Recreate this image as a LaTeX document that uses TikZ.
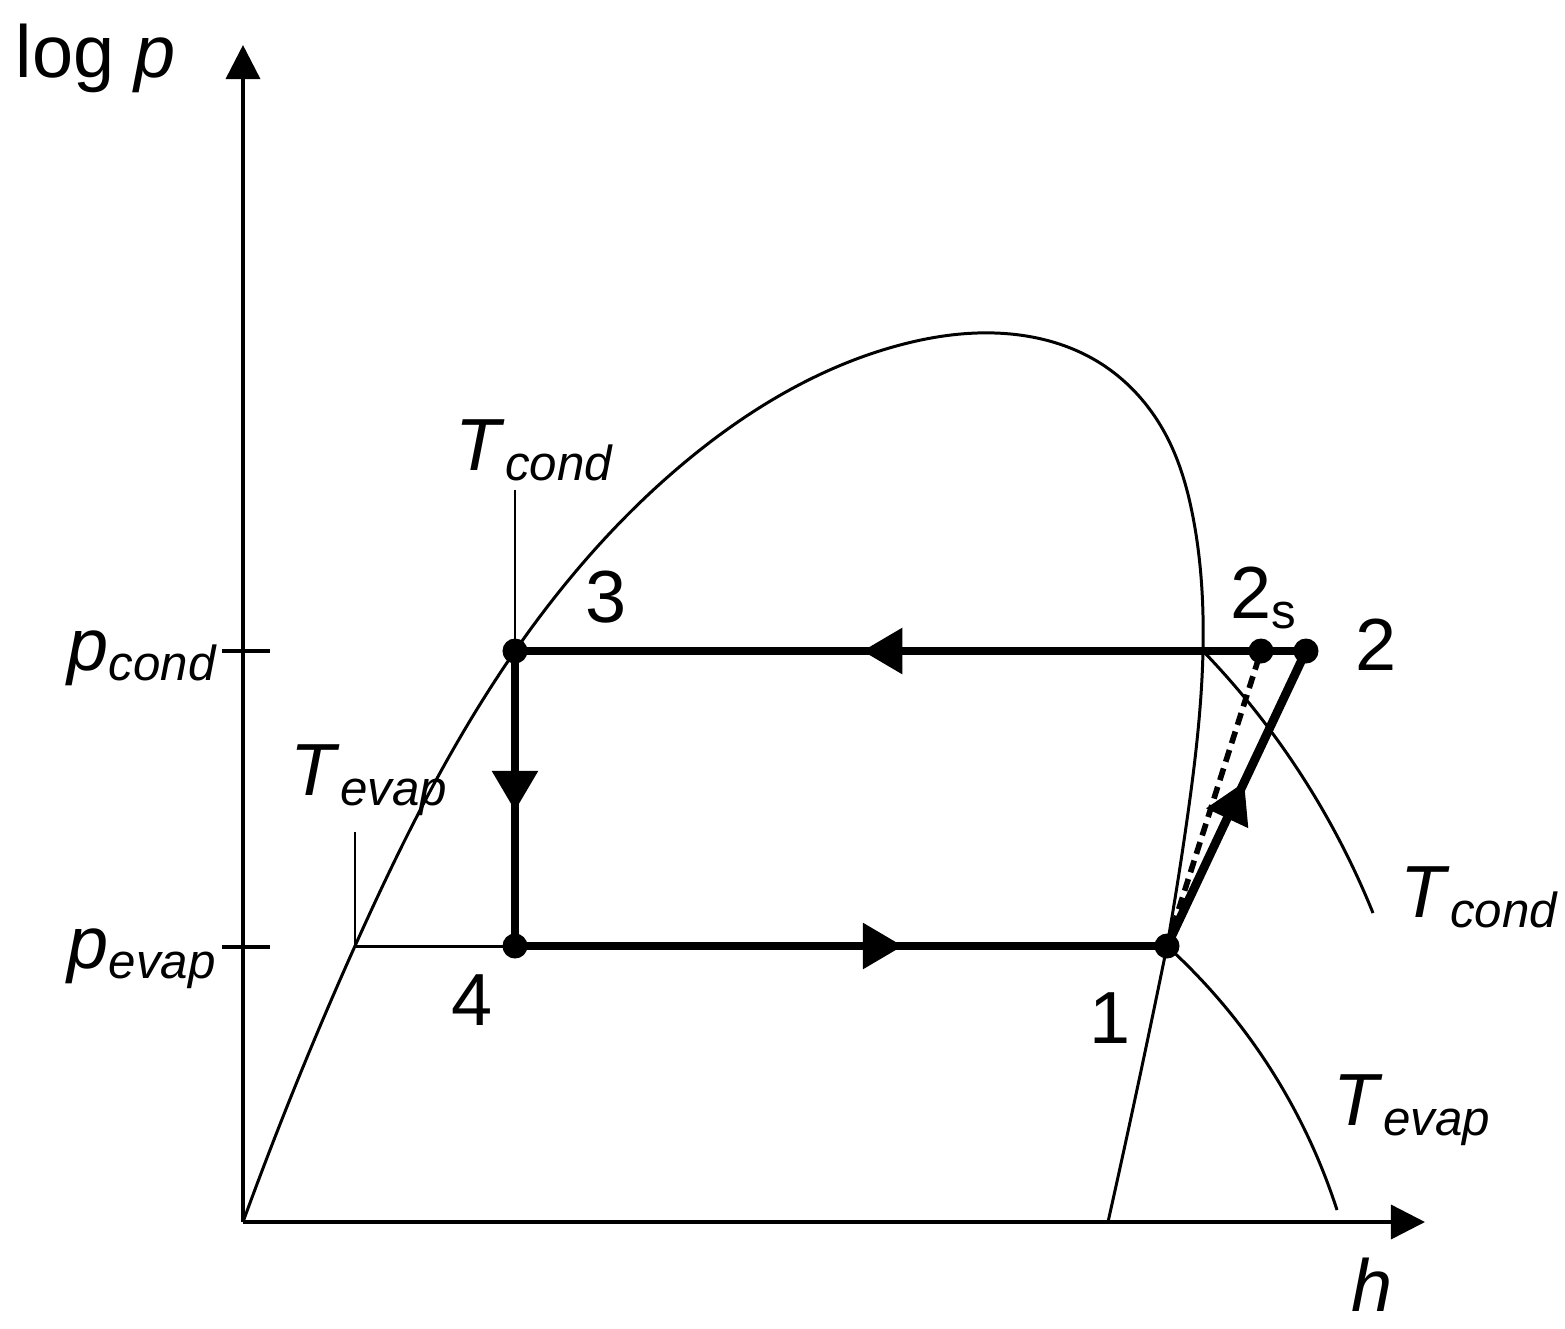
\documentclass[tikz,border=0pt]{standalone}
\usepackage{fontspec}
\setmainfont{Liberation Sans}
\usetikzlibrary{arrows.meta,decorations.markings,positioning,hobby}

\newcommand{\symsub}[2]{\textit{#1}\raisebox{-3pt}{\fontsize{14}{16}\selectfont\textit{#2}}}

\begin{document}
\begin{tikzpicture}[x=0.01cm,y=-0.01cm,
                    thin line/.style={line width=0.85pt},
                    cycle line/.style={line width=2.5pt},
                    axis line/.style={line width=1pt,-{Triangle[length=0.34cm,width=0.34cm]}},
                    tick line/.style={line width=1.4pt},
                    mid arrow/.style={postaction={decorate,decoration={markings,
                        mark=at position #1 with {\arrow{Triangle[length=0.4cm,width=0.44cm]}}}}},
                    label node/.style={font=\fontsize{21}{25}\selectfont,inner sep=0pt}]
\useasboundingbox (0,0) rectangle (1565,1329);

\coordinate (Origin) at (243,1222);
\coordinate (YaxisTop) at (243,45);
\coordinate (XaxisRight) at (1425,1222);
\coordinate (State1) at (1167,946);
\coordinate (State2) at (1306,651);
\coordinate (State2s) at (1261,651);
\coordinate (State3) at (515,651);
\coordinate (State4) at (515,946);
\coordinate (EvapLeft) at (355,946);
\coordinate (CondCross) at (1203,651);

% axes and ticks
\draw[axis line] (Origin) -- (YaxisTop);
\draw[axis line] (Origin) -- (XaxisRight);
\draw[tick line] (222,651) -- (270,651);
\draw[tick line] (222,947) -- (270,947);

% saturation dome
\draw[thin line,use Hobby shortcut] (Origin) .. (EvapLeft) .. (State3) .. (690,458) .. (900,345) .. (977,333)
   .. (1100,363) .. (1167,437) .. (1193,517) .. (CondCross) .. (1187,820) .. (State1);
\draw[thin line,use Hobby shortcut] (State1) .. (1138,1085) .. (1108,1222);

% isotherms
\draw[thin line] (EvapLeft) -- (355,832);
\draw[thin line] (EvapLeft) -- (State4);
\draw[thin line] (State3) -- (515,490);
\draw[thin line,use Hobby shortcut] (CondCross) .. (1288,755) .. (1373,913);
\draw[thin line,use Hobby shortcut] (State1) .. (1258,1050) .. (1337,1210);

% cycle
\draw[cycle line,mid arrow=0.561] (State2) -- (State3);
\draw[cycle line,mid arrow=0.542] (State3) -- (State4);
\draw[cycle line,mid arrow=0.595] (State4) -- (State1);
\draw[cycle line,mid arrow=0.556] (State1) -- (State2);
\draw[line width=1.6pt,dash pattern=on 3.5pt off 2pt] (State1) -- (State2s);

\foreach \s in {State1,State2,State2s,State3,State4}
   \fill (\s) circle (0.125cm);

% labels
\node[label node,anchor=base west] (LogP) at (15,77) {log \textit{p}};
\node[label node] (HLabel) at (1372,1285) {\textit{h}};
\node[label node,anchor=base west] (PCond) at (67,670) {\symsub{p}{cond}};
\node[label node,anchor=base west] (PEvap) at (67,968) {\symsub{p}{evap}};
\node[label node,anchor=base west] (TCondTop) at (455,470) {\symsub{T}{cond}};
\node[label node,anchor=base west] (TEvapLeft) at (290,795) {\symsub{T}{evap}};
\node[label node,anchor=base west] (TCondRight) at (1400,917) {\symsub{T}{cond}};
\node[label node,anchor=base west] (TEvapRight) at (1333,1125) {\symsub{T}{evap}};
\node[label node] (Label1) at (1110,1018) {1};
\node[label node] (Label2) at (1376,645) {2};
\node[label node,anchor=base west] (Label2s) at (1230,618) {2\raisebox{-3pt}{\fontsize{14}{16}\selectfont s}};
\node[label node] (Label3) at (606,597) {3};
\node[label node] (Label4) at (472,1000) {4};
\end{tikzpicture}
\end{document}
